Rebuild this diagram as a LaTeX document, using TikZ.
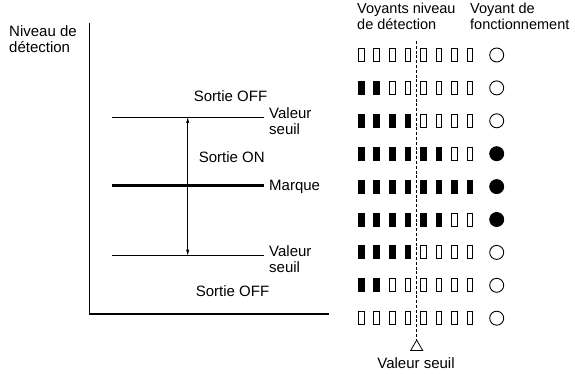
\documentclass[tikz,border=0pt]{standalone}
\usepackage{fontspec}
\setmainfont{Liberation Sans}
\usetikzlibrary{arrows.meta,shapes.geometric}

\begin{document}
\begin{tikzpicture}[x=1pt,y=-1pt,
		txt/.style={inner sep=0, font=\fontsize{15}{16}\selectfont, align=left},
		entete/.style={txt, font=\fontsize{14.5}{16}\selectfont},
		ledoff/.style={draw, line width=1pt, minimum width=5.6pt, minimum height=13pt, inner sep=0},
		ledon/.style={ledoff, fill=black},
		lampe/.style={circle, draw, line width=0.9pt, minimum size=14pt, inner sep=0},
		seuil/.style={line width=0.9pt},
		axe/.style={line width=1.3pt},
		repere/.style={regular polygon, regular polygon sides=3, draw, fill=white, line width=0.8pt, minimum size=13.9pt, inner sep=0}
	]
	\useasboundingbox (0,0) rectangle (575,374);

	\coordinate (axeH) at (89.3,22.7);
	\coordinate (origine) at (89.3,314);
	\coordinate (axeD) at (329,314);
	\draw[axe] (axeH) -- (origine) -- (axeD);
	\node[txt, anchor=base west] (niveau) at (9,52.5) {Niveau de\\détection};

	\coordinate (hautG) at (111.7,117);
	\coordinate (hautD) at (264.3,117);
	\coordinate (marqG) at (111.7,185.5);
	\coordinate (marqD) at (264.3,185.5);
	\coordinate (basG) at (111.7,255.7);
	\coordinate (basD) at (264.3,255.7);
	\coordinate (flecheH) at (187.7,117);
	\coordinate (flecheB) at (187.7,255.7);
	\draw[seuil] (hautG) -- (hautD);
	\draw[line width=3pt] (marqG) -- (marqD);
	\draw[seuil] (basG) -- (basD);
	\draw[line width=0.6pt, {Latex[length=6pt,width=3.2pt]}-{Latex[length=6pt,width=3.2pt]}] (flecheH) -- (flecheB);

	\node[txt, anchor=base] (offH) at (230.5,101.7) {Sortie OFF};
	\node[txt, anchor=base west] (seuilH) at (269,134.3) {Valeur\\seuil};
	\node[txt, anchor=base] (on) at (231.7,162.5) {Sortie ON};
	\node[txt, anchor=base west] (marque) at (269,190.7) {Marque};
	\node[txt, anchor=base west] (seuilB) at (269,272.5) {Valeur\\seuil};
	\node[txt, anchor=base] (offB) at (232.5,296) {Sortie OFF};

	\node[entete, anchor=base west] (voyants) at (357,30) {Voyants niveau\\de détection};
	\node[entete, anchor=base west] (fonct) at (470,30) {Voyant de\\fonctionnement};

	\foreach \n [count=\r] in {0,2,4,6,8,6,4,2,0} {
		\foreach \c in {1,...,8} {
			\ifnum\c>\n
				\node[ledoff] (led-\r-\c) at ({345.65+15.55*\c},{22.1+32.9*\r}) {};
			\else
				\node[ledon] (led-\r-\c) at ({345.65+15.55*\c},{22.1+32.9*\r}) {};
			\fi
		}
		\ifnum\n>5
			\node[lampe, fill=black] (lampe-\r) at (496.7,{22.1+32.9*\r}) {};
		\else
			\node[lampe] (lampe-\r) at (496.7,{22.1+32.9*\r}) {};
		\fi
	}

	\node[repere] (tri) at (416.7,347) {};
	\coordinate (tiretH) at (416.7,41);
	\draw[line width=0.6pt, dash pattern=on 3pt off 1.8pt] (tiretH) -- (tri.corner 1);
	\node[txt, anchor=base] (valseuil) at (416,368) {Valeur seuil};
\end{tikzpicture}
\end{document}
